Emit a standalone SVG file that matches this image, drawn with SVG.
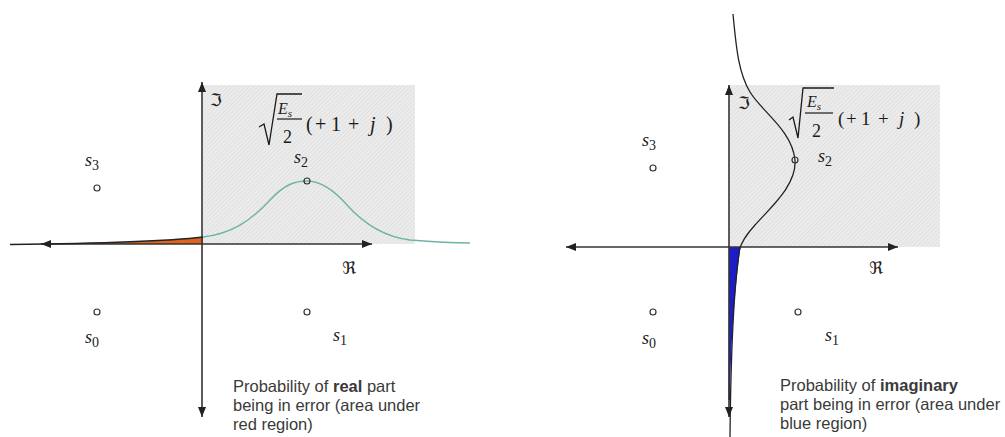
<svg xmlns="http://www.w3.org/2000/svg" width="1005" height="437" viewBox="0 0 1005 437">
<style>
.axis{stroke:#333;stroke-width:1.6;fill:none}
.math{font-family:"Liberation Serif","DejaVu Serif",serif;fill:#1a1a1a}
.it{font-style:italic}
.lbl{font-family:"Liberation Serif","DejaVu Serif",serif;font-style:italic;font-size:18px;fill:#1a1a1a}
.sub{font-style:normal;font-size:14px}
.frak{font-family:"DejaVu Serif","DejaVu Sans",serif;font-size:17px;fill:#222}
.note{font-family:"Liberation Sans",Arial,sans-serif;font-size:16.5px;fill:#3a3a3a}
.pt{fill:none;stroke:#333;stroke-width:1.2}
.rad{fill:none;stroke:#1a1a1a;stroke-width:1.3}
</style>
<defs>
<pattern id="hatch" width="3" height="3" patternUnits="userSpaceOnUse" patternTransform="rotate(45)">
<rect width="3" height="3" fill="#ececec"/>
<line x1="0" y1="0" x2="0" y2="3" stroke="#d5d5d5" stroke-width="1"/>
</pattern>
<marker id="arr" markerUnits="userSpaceOnUse" markerWidth="11" markerHeight="9" refX="10" refY="4" orient="auto-start-reverse">
<path d="M0,0 L10,4 L0,8 Z" fill="#222"/>
</marker>
</defs>
<rect width="1005" height="437" fill="#fff"/>

<g id="left-panel">
<rect id="left-region" x="203" y="85" width="212" height="159" fill="url(#hatch)"/>
<path id="left-error-area" d="M45,244 C100,243.4 165,241.5 203,237 L203,244 Z" fill="#e0641e"/>
<g id="left-axes">
<line class="axis" x1="41" y1="244" x2="372" y2="244" marker-start="url(#arr)" marker-end="url(#arr)"/>
<line class="axis" x1="202" y1="82" x2="202" y2="417" marker-start="url(#arr)" marker-end="url(#arr)"/>
</g>
<path id="left-tail" d="M10,244.5 C100,243.5 165,241.5 203,237" fill="none" stroke="#222" stroke-width="1.5"/>
<path id="left-pdf" d="M203,237 C230,234 250,222 270,200 C285,184 295,181 307,181 C320,181 332,188 347,205 C365,225 385,237 410,240 C440,242.5 460,243 470,243" fill="none" stroke="#6fb3a6" stroke-width="1.4"/>
<g id="left-points">
<circle class="pt" cx="97" cy="188" r="3"/>
<circle class="pt" cx="307" cy="181" r="3"/>
<circle class="pt" cx="97" cy="312" r="3"/>
<circle class="pt" cx="307" cy="312" r="3"/>
</g>
<g id="left-labels">
<text class="frak" x="210" y="106">ℑ</text>
<text class="frak" x="342" y="274">ℜ</text>
<text class="lbl" x="85" y="166">s<tspan class="sub" dy="4">3</tspan></text>
<text class="lbl" x="294" y="163">s<tspan class="sub" dy="4">2</tspan></text>
<text class="lbl" x="85" y="343">s<tspan class="sub" dy="4">0</tspan></text>
<text class="lbl" x="333" y="341">s<tspan class="sub" dy="4">1</tspan></text>
<path class="rad" d="M259,127 L264,124 L269,145 L277,94 L302,94"/>
<text class="math it" x="278" y="114" font-size="16">E<tspan font-size="11" dy="3">s</tspan></text>
<line x1="277" y1="119" x2="302" y2="119" stroke="#1a1a1a" stroke-width="1.2"/>
<text class="math" x="283" y="143" font-size="18">2</text>
<text class="math" y="131" font-size="20"><tspan x="306">(</tspan><tspan x="315">+</tspan><tspan x="331">1</tspan><tspan x="348">+</tspan><tspan x="370" font-style="italic">j</tspan><tspan x="386">)</tspan></text>
<text class="note" x="233" y="392">Probability of <tspan font-weight="bold">real</tspan> part</text>
<text class="note" x="233" y="411">being in error (area under</text>
<text class="note" x="233" y="430">red region)</text>
</g>
</g>

<g id="right-panel">
<rect id="right-region" x="730" y="85" width="210" height="162" fill="url(#hatch)"/>
<path id="right-error-area" d="M729,247 L740.5,247 C736,280 731,330 730,400 L728.5,400 Z" fill="#1d1dc8"/>
<g id="right-axes">
<line class="axis" x1="566" y1="247" x2="898" y2="247" marker-start="url(#arr)" marker-end="url(#arr)"/>
<line class="axis" x1="729" y1="85" x2="729" y2="417" marker-start="url(#arr)" marker-end="url(#arr)"/>
</g>
<path id="right-pdf" d="M733,14 C736,45 738,72 750,92 C762,112 792,130 795,160 C797,185 770,208 755,225 C745,236 741,243 739.5,250 C735,280 731,330 730,437" fill="none" stroke="#222" stroke-width="1.3"/>
<g id="right-points">
<circle class="pt" cx="653" cy="168" r="3"/>
<circle class="pt" cx="795" cy="160" r="3"/>
<circle class="pt" cx="653" cy="312" r="3"/>
<circle class="pt" cx="798" cy="312" r="3"/>
</g>
<g id="right-labels">
<text class="frak" x="738" y="109">ℑ</text>
<text class="frak" x="869" y="274">ℜ</text>
<text class="lbl" x="642" y="146">s<tspan class="sub" dy="4">3</tspan></text>
<text class="lbl" x="818" y="162">s<tspan class="sub" dy="4">2</tspan></text>
<text class="lbl" x="642" y="344">s<tspan class="sub" dy="4">0</tspan></text>
<text class="lbl" x="825" y="341">s<tspan class="sub" dy="4">1</tspan></text>
<path class="rad" d="M789,120 L793,117 L798,138 L803,88 L834,88"/>
<text class="math it" x="807" y="107" font-size="16">E<tspan font-size="11" dy="3">s</tspan></text>
<line x1="805" y1="113" x2="833" y2="113" stroke="#1a1a1a" stroke-width="1.2"/>
<text class="math" x="812" y="137" font-size="18">2</text>
<text class="math" y="125" font-size="19"><tspan x="838">(</tspan><tspan x="846">+</tspan><tspan x="861">1</tspan><tspan x="878">+</tspan><tspan x="899" font-style="italic">j</tspan><tspan x="914">)</tspan></text>
<text class="note" x="780" y="391">Probability of <tspan font-weight="bold">imaginary</tspan></text>
<text class="note" x="780" y="410">part being in error (area under</text>
<text class="note" x="780" y="429">blue region)</text>
</g>
</g>
</svg>
